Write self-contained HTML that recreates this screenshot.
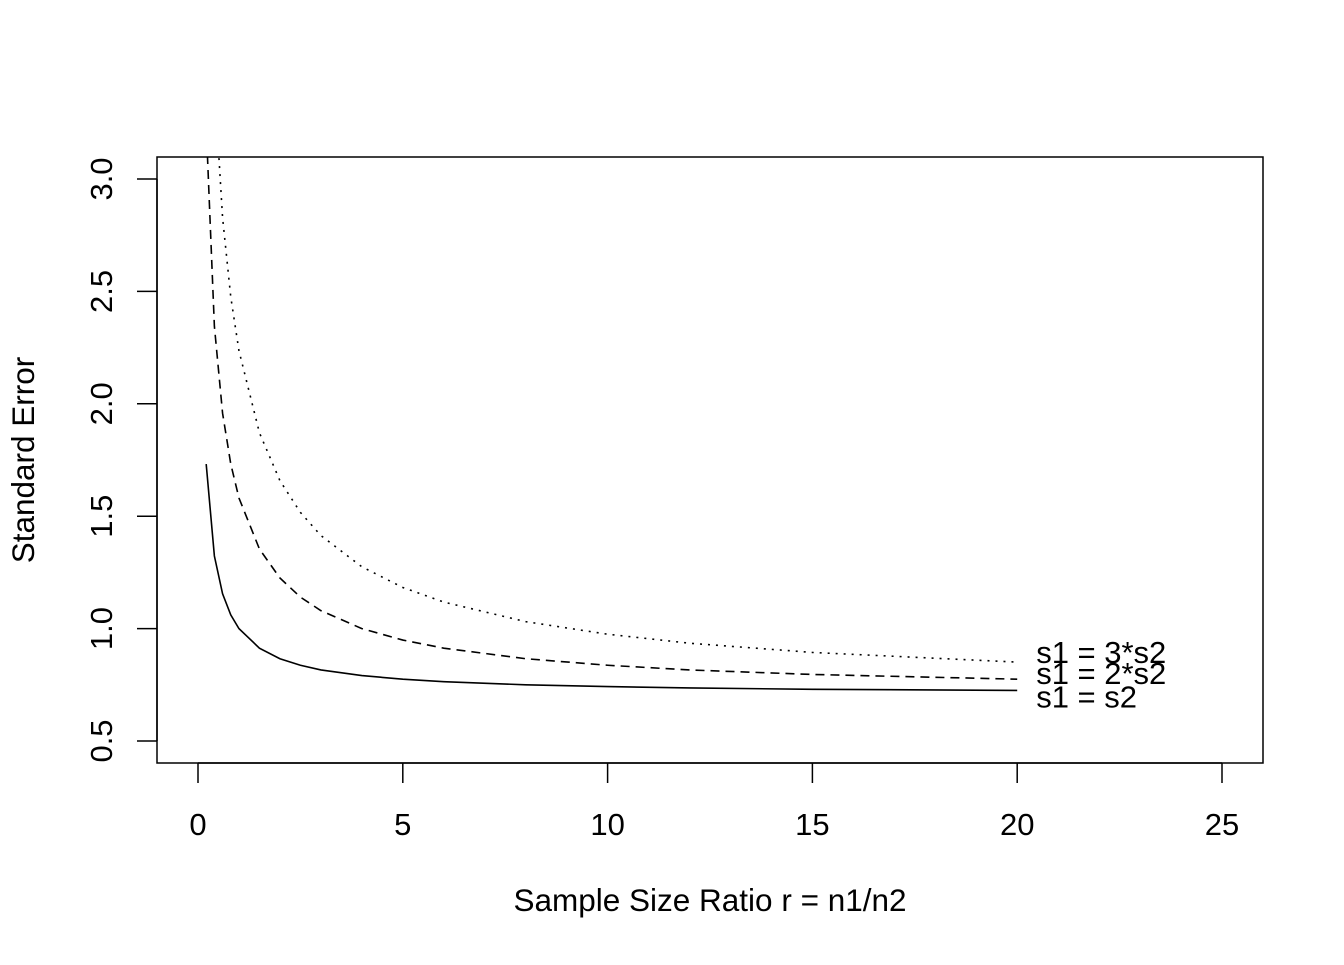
<!DOCTYPE html>
<html><head><meta charset="utf-8"><style>
body{margin:0;background:#fff}
svg text{font-family:"Liberation Sans",Arial,sans-serif;fill:#000}
</style></head><body>
<svg id="chart" width="1344" height="960" xmlns="http://www.w3.org/2000/svg">
<defs><clipPath id="clip"><rect x="157" y="157" width="1106" height="606"/></clipPath></defs>
<rect x="157" y="157" width="1106" height="606" fill="none" stroke="#000" stroke-width="1.5"/>
<g id="xaxis"></g>
<g id="yaxis"></g>
<g id="series" clip-path="url(#clip)"></g>
<g id="labels"></g>
<text x="710" y="911" font-size="31.5" text-anchor="middle">Sample Size Ratio r = n1/n2</text>
<text transform="translate(34,460) rotate(-90)" font-size="31.5" text-anchor="middle">Standard Error</text>
</svg>
<script>
const ratios=[0.2,0.4,0.6,0.8,1,1.5,2,2.5,3,4,5,6,8,10,12,15,20];
const seEqual=[1.732,1.323,1.155,1.061,1,0.913,0.866,0.837,0.816,0.791,0.775,0.764,0.75,0.742,0.736,0.730,0.725];
const seDouble=[3.24,2.345,1.958,1.732,1.581,1.354,1.225,1.140,1.080,1.0,0.949,0.913,0.866,0.837,0.816,0.796,0.775];
const seTriple=[4.80,3.428,2.828,2.475,2.236,1.871,1.658,1.517,1.414,1.275,1.183,1.118,1.031,0.975,0.935,0.894,0.851];
const seriesNames=["s1 = s2","s1 = 2*s2","s1 = 3*s2"];
const xTicks=[0,5,10,15,20,25];
const yTicks=[0.5,1.0,1.5,2.0,2.5,3.0];
const NS="http://www.w3.org/2000/svg";
const X=v=>198+v*(1222-198)/25;
const Y=v=>741-(v-0.5)*(741-179)/2.5;
function mk(t,a,p){const e=document.createElementNS(NS,t);for(const k in a)e.setAttribute(k,a[k]);p.appendChild(e);return e;}
const xa=document.getElementById('xaxis'),ya=document.getElementById('yaxis');
mk('line',{x1:X(0),x2:X(25),y1:763,y2:763,stroke:'#000','stroke-width':1.5},xa);
xTicks.forEach(t=>{
 const l=mk('line',{x1:X(t),x2:X(t),y1:763,y2:783,stroke:'#000','stroke-width':1.5},xa);
 
 
 const tx=mk('text',{x:X(t),y:835,'font-size':31,'text-anchor':'middle'},xa);tx.textContent=t;
 
 
});
mk('line',{x1:157,x2:157,y1:Y(0.5),y2:Y(3),stroke:'#000','stroke-width':1.5},ya);
yTicks.forEach(t=>{
 const l=mk('line',{x1:137,x2:157,y1:Y(t),y2:Y(t),stroke:'#000','stroke-width':1.5},ya);
 
 
 const tx=mk('text',{transform:`translate(112,${Y(t)}) rotate(-90)`,'font-size':31,'text-anchor':'middle'},ya);tx.textContent=t.toFixed(1);
 
 
});
const sg=document.getElementById('series'),lg=document.getElementById('labels');
const all=[seEqual,seDouble,seTriple],dashes=['none','9,6','2,6'],dys=[17,5,1];
all.forEach((s,i)=>{
 const p=mk('polyline',{points:s.map((v,j)=>X(ratios[j])+','+Y(v)).join(' '),fill:'none',stroke:'#000','stroke-width':1.6,'stroke-dasharray':dashes[i]},sg);
 
 
 const last=s[s.length-1];
 const tx=mk('text',{x:X(ratios[ratios.length-1])+19,y:Y(last)+dys[i],'font-size':31},lg);tx.textContent=seriesNames[i];
 
 
});
</script>
</body></html>
